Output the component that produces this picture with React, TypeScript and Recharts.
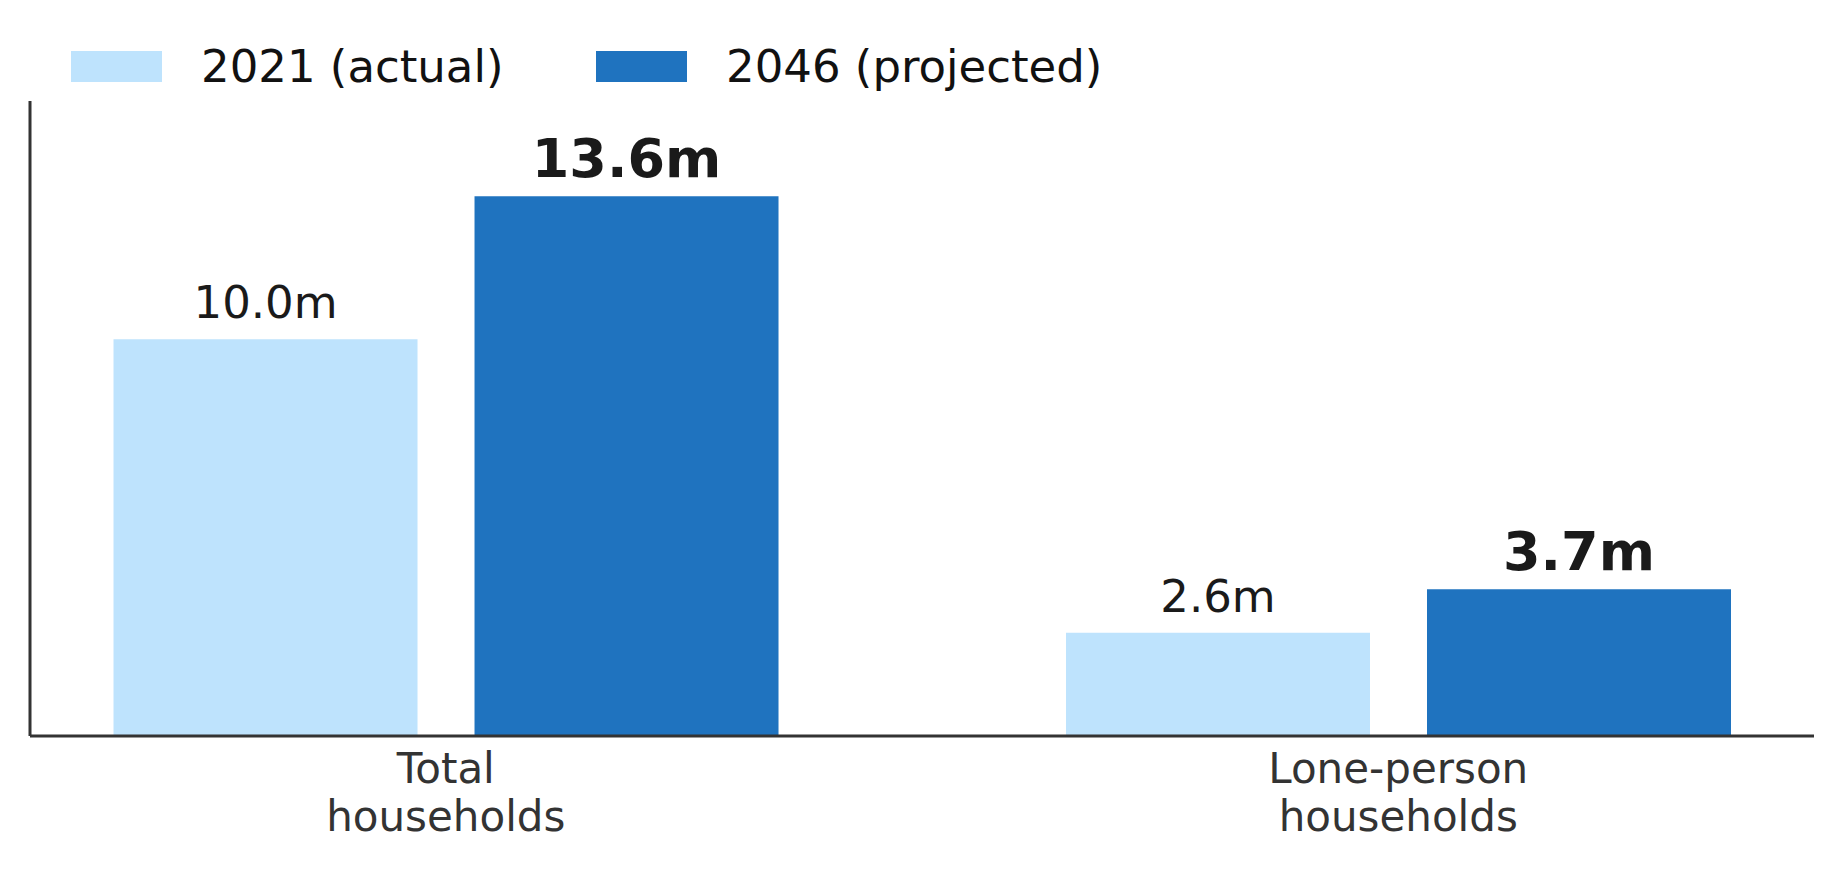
import { BarChart, Bar, XAxis, YAxis, Legend, LabelList } from "recharts";

// ── Data ──
const categories = ["Total|households", "Lone-person|households"];
const actual2021 = [10.0, 2.6];
const projected2046 = [13.6, 3.7];

const FONT = '"DejaVu Sans", sans-serif';
const LIGHT = "#BEE3FD";
const DARK = "#1F73BF";

// numeric x positions so the groups can sit closer to the edges than a band axis allows
const data = categories.map((category, i) => ({
  x: i,
  category,
  actual: actual2021[i],
  projected: projected2046[i],
}));

const legendItems = [
  { label: "2021 (actual)", color: LIGHT, width: 525 },
  { label: "2046 (projected)", color: DARK, width: 500 },
];

function LegendContent() {
  return (
    <div style={{ display: "flex", alignItems: "center", paddingLeft: 71, paddingTop: 40 }}>
      {legendItems.map((item) => (
        <div key={item.label} style={{ display: "flex", alignItems: "center", width: item.width }}>
          <div style={{ width: 91, height: 31, background: item.color, flexShrink: 0 }} />
          <span style={{ marginLeft: 39, fontFamily: FONT, fontSize: 45, color: "#111", whiteSpace: "nowrap" }}>
            {item.label}
          </span>
        </div>
      ))}
    </div>
  );
}

function CategoryTick(props: any) {
  const { x, y, payload } = props;
  const name = categories[Math.round(Number(payload.value))] ?? "";
  const lines = name.split("|");
  return (
    <text x={x} y={y} textAnchor="middle" fill="#333" fontFamily={FONT} fontSize={42}>
      {lines.map((line, i) => (
        <tspan key={i} x={x} dy={i === 0 ? 39 : 48}>
          {line}
        </tspan>
      ))}
    </text>
  );
}

const makeLabel = (bold: boolean) => (props: any) => {
  const { x, y, width, value } = props;
  return (
    <text
      x={Number(x) + Number(width) / 2}
      y={Number(y) - (bold ? 19 : 21)}
      textAnchor="middle"
      fill="#1a1a1a"
      fontFamily={FONT}
      fontSize={bold ? 54 : 45}
      fontWeight={bold ? "bold" : "normal"}
    >
      {`${Number(value).toFixed(1)}m`}
    </text>
  );
};

export default function App() {
  return (
    <div style={{ position: "absolute", left: 0, top: 0, width: 1843, height: 870, background: "#fff" }}>
      <BarChart
        width={1843}
        height={870}
        data={data}
        margin={{ top: 101, right: 29, bottom: 0, left: 29 }}
        barSize={304}
        barGap={57}
      >
        <XAxis
          dataKey="x"
          type="number"
          domain={[-0.4365, 1.4365]}
          ticks={[0, 1]}
          allowDataOverflow
          height={134}
          axisLine={{ stroke: "#333", strokeWidth: 3 }}
          tickLine={false}
          tick={<CategoryTick />}
          interval={0}
        />
        <YAxis
          type="number"
          domain={[0, 16]}
          width={1}
          tick={false}
          tickLine={false}
          axisLine={{ stroke: "#333", strokeWidth: 3 }}
        />
        <Legend
          verticalAlign="middle"
          align="center"
          layout="horizontal"
          content={<LegendContent />}
          wrapperStyle={{ top: 0, left: 0, width: 1843 }}
        />
        <Bar dataKey="actual" name="2021 (actual)" fill={LIGHT} isAnimationActive={false}>
          <LabelList dataKey="actual" content={makeLabel(false)} />
        </Bar>
        <Bar dataKey="projected" name="2046 (projected)" fill={DARK} isAnimationActive={false}>
          <LabelList dataKey="projected" content={makeLabel(true)} />
        </Bar>
      </BarChart>
    </div>
  );
}
